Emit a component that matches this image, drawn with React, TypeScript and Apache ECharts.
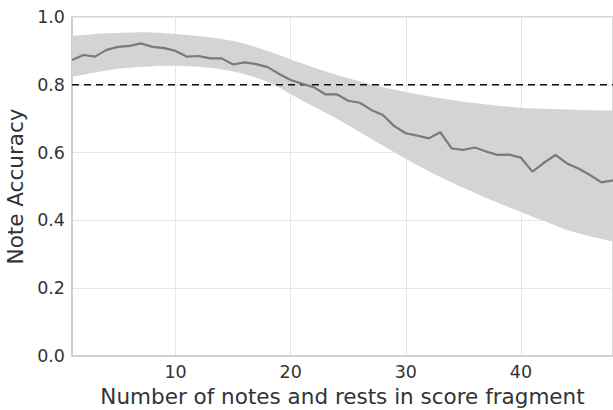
import React, { useEffect, useRef } from "react";
import * as echarts from "echarts";

const xs = Array.from({ length: 48 }, (_, i) => i + 1);
const accuracy = [
  0.873, 0.888, 0.883, 0.903, 0.912, 0.915, 0.922, 0.912, 0.908, 0.9,
  0.883, 0.885, 0.878, 0.878, 0.86, 0.866, 0.861, 0.852, 0.832, 0.814,
  0.803, 0.793, 0.772, 0.772, 0.753, 0.747, 0.726, 0.711, 0.678, 0.657,
  0.65, 0.642, 0.66, 0.612, 0.608, 0.615, 0.603, 0.593, 0.594, 0.585,
  0.544, 0.57, 0.593, 0.568, 0.553, 0.534, 0.512, 0.518,
];
const bandUpper = [
  0.944, 0.947, 0.95, 0.952, 0.953, 0.954, 0.955, 0.954, 0.952, 0.95,
  0.947, 0.944, 0.94, 0.935, 0.929, 0.921, 0.911, 0.9, 0.888, 0.875,
  0.863, 0.851, 0.84, 0.829, 0.819, 0.81, 0.801, 0.793, 0.786, 0.779,
  0.772, 0.766, 0.76, 0.755, 0.75, 0.746, 0.742, 0.738, 0.735, 0.732,
  0.73, 0.729, 0.728, 0.727, 0.726, 0.725, 0.724, 0.724,
];
const bandLower = [
  0.824, 0.83, 0.836, 0.842, 0.847, 0.85, 0.853, 0.855, 0.856, 0.856,
  0.855, 0.853, 0.85, 0.845, 0.839, 0.831, 0.821, 0.809, 0.792, 0.772,
  0.754, 0.736, 0.718, 0.7, 0.681, 0.661, 0.641, 0.621, 0.601, 0.582,
  0.563, 0.545, 0.528, 0.512, 0.496, 0.481, 0.466, 0.452, 0.438, 0.425,
  0.411, 0.398, 0.385, 0.372, 0.362, 0.353, 0.345, 0.337,
];
const xTicks = [10, 20, 30, 40];
const threshold = 0.8;

const FONT = "DejaVu Sans";

export default function App() {
  const ref = useRef<HTMLDivElement>(null);
  useEffect(() => {
    if (!ref.current) return;
    const chart = echarts.init(ref.current, null, { renderer: "svg" });
    const showTick = (index: number) => xTicks.includes(xs[index]);
    chart.setOption({
      animation: false,
      grid: {
        left: 72,
        top: 17,
        right: 0,
        bottom: 54,
        show: true,
        borderColor: "#cccccc",
        borderWidth: 1.5,
        containLabel: false,
        outerBoundsMode: "none",
      },
      xAxis: {
        type: "category",
        boundaryGap: false,
        data: xs.map(String),
        name: "Number of notes and rests in score fragment",
        nameLocation: "middle",
        nameGap: 29,
        nameTextStyle: { fontFamily: FONT, fontSize: 21.5, color: "#333333" },
        axisLine: { show: true, lineStyle: { color: "#cccccc", width: 1.5 } },
        axisTick: { show: false },
        splitLine: { show: true, interval: showTick, lineStyle: { color: "#e6e6e6", width: 1 } },
        axisLabel: {
          fontFamily: FONT,
          fontSize: 17.5,
          color: "#333333",
          margin: 7,
          interval: showTick,
        },
      },
      yAxis: {
        type: "value",
        min: 0,
        max: 1,
        interval: 0.2,
        name: "Note Accuracy",
        nameLocation: "middle",
        nameGap: 44,
        nameTextStyle: { fontFamily: FONT, fontSize: 21.5, color: "#333333" },
        axisLine: { show: true, lineStyle: { color: "#cccccc", width: 1.5 } },
        axisTick: { show: false },
        splitLine: { show: true, lineStyle: { color: "#e6e6e6", width: 1 } },
        axisLabel: {
          fontFamily: FONT,
          fontSize: 17.5,
          color: "#333333",
          margin: 7,
          formatter: (v: number) => v.toFixed(1),
        },
      },
      series: [
        {
          type: "line",
          data: bandLower,
          stack: "band",
          symbol: "none",
          smooth: 0.3,
          lineStyle: { opacity: 0 },
          silent: true,
          z: 1,
        },
        {
          type: "line",
          data: bandUpper.map((u, i) => +(u - bandLower[i]).toFixed(4)),
          stack: "band",
          symbol: "none",
          smooth: 0.3,
          lineStyle: { opacity: 0 },
          areaStyle: { color: "#d4d4d4", opacity: 1 },
          silent: true,
          z: 1,
        },
        {
          type: "line",
          data: xs.map(() => threshold),
          symbol: "none",
          lineStyle: { color: "#111111", width: 1.5, type: [7, 5] },
          silent: true,
          z: 3,
        },
        {
          type: "line",
          data: accuracy,
          symbol: "none",
          lineStyle: { color: "#7a7a7a", width: 2.2 },
          silent: true,
          z: 4,
        },
      ],
    });
    return () => chart.dispose();
  }, []);
  return <div ref={ref} style={{ width: 613, height: 410, position: "absolute", left: 0, top: 0 }} />;
}
